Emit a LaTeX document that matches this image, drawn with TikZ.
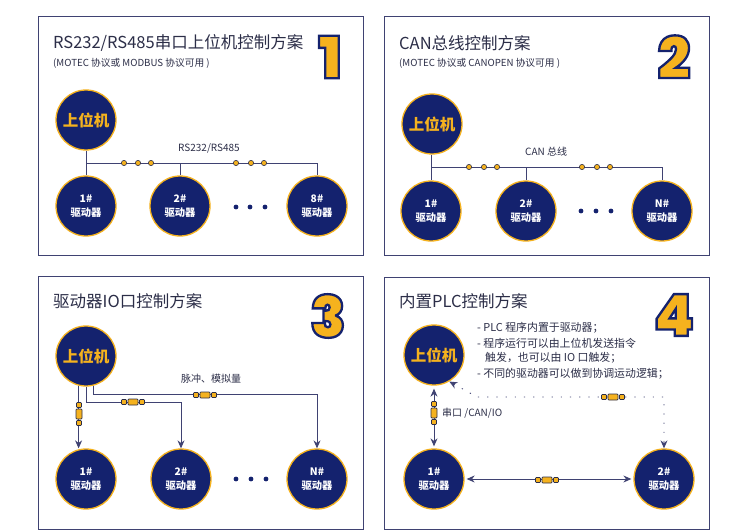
\documentclass[tikz,border=0pt]{standalone}
\usepackage{fontspec}
\setmainfont{Noto Sans CJK SC}
\newfontfamily\numfont[FakeBold=4]{Poppins Black}
\usetikzlibrary{arrows.meta}
\definecolor{navy}{HTML}{14226E}
\definecolor{gold}{HTML}{F5B21E}
\definecolor{ink}{HTML}{2C2E48}
\definecolor{wire}{HTML}{3F4272}
\tikzset{
    panel/.style={draw=wire, line width=0.9pt, fill=white},
    host/.style={circle, draw=gold, line width=1.3pt, fill=navy, text=gold, minimum size=60pt, inner sep=0pt, font=\fontsize{15.5}{18}\selectfont\bfseries},
    driver/.style={circle, draw=gold, line width=1.3pt, fill=navy, text=white, minimum size=60pt, inner sep=0pt, align=center, font=\fontsize{10.3}{14}\selectfont\bfseries},
    title/.style={anchor=west, inner sep=0pt, text=ink, font=\fontsize{16.5}{20}\selectfont},
    subtitle/.style={anchor=west, inner sep=0pt, text=ink, font=\fontsize{9.7}{11}\selectfont},
    note/.style={anchor=west, inner sep=0pt, text=ink, font=\fontsize{10}{12}\selectfont},
    bullet/.style={anchor=west, inner sep=0pt, text=ink, font=\fontsize{10.9}{13}\selectfont},
    numtext/.style={inner sep=0pt, text=gold, font=\fontsize{58}{58}\selectfont\numfont},
    bus/.style={draw=wire, line width=0.9pt},
    sig/.style={draw=wire, line width=0.9pt, -{Stealth[length=8pt, width=7pt]}},
    sigboth/.style={draw=wire, line width=0.9pt, {Stealth[length=8pt, width=7pt]}-{Stealth[length=8pt, width=7pt]}},
    sigdots/.style={sigboth, dash pattern=on 1.2pt off 8pt},
    busdot/.style={draw=ink, line width=0.6pt, fill=gold},
    lnk/.style={draw=ink, line width=0.7pt, fill=gold, rounded corners=0.8pt},
}
\newcommand{\bignum}[1]{\special{pdf:code 0.078 0.133 0.431 RG}#1}
\newcommand{\lnkh}[2]{
    \filldraw[lnk, shift={(#1,#2)}] (-11.5,-2.5) rectangle (-6.5,2.5) (-5,-3) rectangle (5,3) (6.5,-2.5) rectangle (11.5,2.5);
}
\newcommand{\lnkv}[2]{
    \filldraw[lnk, shift={(#1,#2)}] (-2.5,-11.5) rectangle (2.5,-6.5) (-3,-5) rectangle (3,5) (-2.5,6.5) rectangle (2.5,11.5);
}
\begin{document}
\begin{tikzpicture}[x=1pt, y=-1pt]
    \useasboundingbox (0,0) rectangle (738,532);

    \draw[panel] (38,16) rectangle (363,255);
    \draw[panel] (384,16) rectangle (709,255);
    \draw[panel] (38,276) rectangle (363,529);
    \draw[panel] (384,277) rectangle (709,529);

    \node[title] (title1) at (53,43) {RS232/RS485串口上位机控制方案};
    \node[subtitle] (sub1) at (53,63) {(MOTEC 协议或 MODBUS 协议可用 )};
    \node[numtext] (num1) at (330,57) {\bignum{1}};
    \node[host] (h1) at (86,120) {上位机};
    \node[driver] (d11) at (86,206) {1\#\\驱动器};
    \node[driver] (d12) at (180,206) {2\#\\驱动器};
    \node[driver] (d13) at (317,206) {8\#\\驱动器};
    \coordinate (b1) at (86,163);
    \draw[bus] (h1) -- (d11);
    \draw[bus] (b1) -| (d12.north);
    \draw[bus] (b1) -| (d13.north);
    \foreach \x in {124,138,151,236,251,264}
        \filldraw[busdot] (\x,163) circle (2.6);
    \foreach \x in {236,250,265}
        \fill[navy] (\x,207) circle (2.4);
    \node[note] (lab1) at (178,148) {RS232/RS485};

    \node[title] (title2) at (399,43) {CAN总线控制方案};
    \node[subtitle] (sub2) at (399,63) {(MOTEC 协议或 CANOPEN 协议可用 )};
    \node[numtext] (num2) at (674,57) {\bignum{2}};
    \node[host] (h2) at (432,124) {上位机};
    \node[driver] (d21) at (431,211) {1\#\\驱动器};
    \node[driver] (d22) at (526,211) {2\#\\驱动器};
    \node[driver] (d23) at (662,211) {N\#\\驱动器};
    \coordinate (b2) at (431,167);
    \draw[bus] (h2.south -| d21) -- (d21);
    \draw[bus] (b2) -| (d22.north);
    \draw[bus] (b2) -| (d23.north);
    \foreach \x in {469,484,497,582,597,610}
        \filldraw[busdot] (\x,167) circle (2.6);
    \foreach \x in {581,596,611}
        \fill[navy] (\x,211) circle (2.4);
    \node[note] (lab2) at (525,152) {CAN 总线};

    \node[title] (title3) at (53,301) {驱动器IO口控制方案};
    \node[numtext] (num3) at (328,316) {\bignum{3}};
    \node[host] (h3) at (86,356) {上位机};
    \node[driver] (d31) at (86,479) {1\#\\驱动器};
    \node[driver] (d32) at (181,479) {2\#\\驱动器};
    \node[driver] (d33) at (317,479) {N\#\\驱动器};
    \draw[sig] (h3.256) -- (h3.256 |- d31.north);
    \draw[sig] (h3.south) -- ++(0,16) -| (d32.north);
    \draw[sig] (h3.284) -- ++(0,9) -| (d33.north);
    \lnkv{79}{414}
    \lnkh{133}{402}
    \lnkh{205}{395}
    \foreach \x in {236,251,266}
        \fill[navy] (\x,479) circle (2.4);
    \node[note] (lab3) at (181,379) {脉冲、模拟量};

    \node[title] (title4) at (399,301) {内置PLC控制方案};
    \node[numtext] (num4) at (674,315) {\bignum{4}};
    \node[host] (h4) at (434,355) {上位机};
    \node[driver] (d41) at (434,479) {1\#\\驱动器};
    \node[driver] (d42) at (664,479) {2\#\\驱动器};
    \coordinate (dotA) at (477,397);
    \draw[sigboth, shorten <=3pt, shorten >=2pt] (h4) -- (d41);
    \draw[sigboth, shorten <=2pt, shorten >=2pt] (d41) -- (d42);
    \draw[sigdots] (h4.-60) -- (dotA) -| (d42.north);
    \lnkv{434}{413}
    \lnkh{547}{480}
    \lnkh{613}{397}
    \node[note] (lab4) at (442,413) {串口 /CAN/IO};
    \node[bullet] (line1) at (477,328) {- PLC 程序内置于驱动器；};
    \node[bullet] (line2) at (477,343) {- 程序运行可以由上位机发送指令};
    \node[bullet] (line3) at (485,358) {触发，也可以由 IO 口触发；};
    \node[bullet] (line4) at (477,374) {- 不同的驱动器可以做到协调运动逻辑；};
\end{tikzpicture}
\end{document}
